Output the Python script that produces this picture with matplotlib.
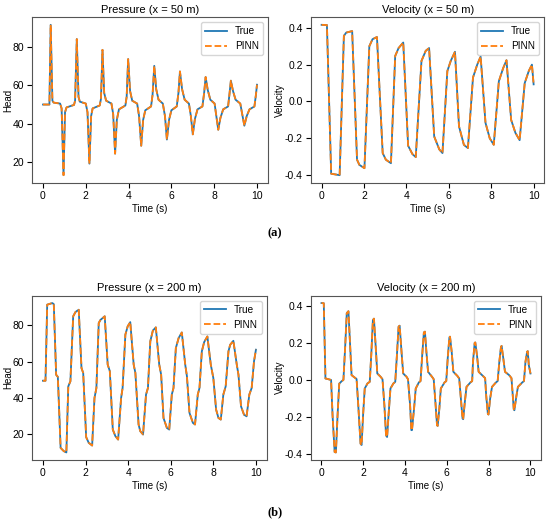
import matplotlib
matplotlib.use("Agg")
import matplotlib.pyplot as plt

plt.rcParams['font.family'] = ['Liberation Sans', 'DejaVu Sans']
plt.rcParams['axes.unicode_minus'] = False

# ---- Pressure at x = 50 m ----
p50_t = [0.00, 0.30, 0.36, 0.44, 0.50, 0.80, 0.87, 0.96, 1.03, 1.10, 1.45, 1.50, 1.58, 1.66, 1.72,
         2.00, 2.08, 2.17, 2.25, 2.32, 2.65, 2.71, 2.78, 2.86, 2.95, 3.20, 3.28, 3.37, 3.45, 3.55,
         3.85, 3.91, 3.98, 4.07, 4.17, 4.40, 4.49, 4.59, 4.68, 4.78, 5.05, 5.12, 5.20, 5.29, 5.40,
         5.60, 5.70, 5.79, 5.89, 6.00, 6.25, 6.33, 6.40, 6.50, 6.62, 6.82, 6.91, 7.00, 7.10, 7.22,
         7.45, 7.53, 7.60, 7.70, 7.82, 8.02, 8.10, 8.19, 8.29, 8.42, 8.65, 8.72, 8.78, 8.88, 9.00,
         9.22, 9.31, 9.41, 9.52, 9.65, 9.88, 9.95, 10.00]
p50_true = [50.0, 50.0, 91.4, 52.0, 51.0, 50.5, 48.0, 13.3, 46.0, 48.5, 49.8, 52.0, 84.0, 54.0, 51.5,
            50.5, 46.0, 19.3, 44.0, 48.0, 49.5, 53.0, 78.4, 56.0, 52.0, 50.5, 45.0, 24.5, 42.0, 47.5,
            49.5, 54.0, 73.6, 57.0, 52.0, 50.5, 44.0, 28.6, 42.0, 47.0, 49.0, 55.0, 70.1, 58.0, 52.5,
            50.5, 44.0, 31.8, 42.0, 47.0, 49.0, 56.0, 67.2, 58.0, 52.5, 50.5, 44.0, 34.5, 42.5, 47.5,
            49.0, 56.0, 64.3, 57.5, 52.5, 50.5, 44.0, 36.9, 43.0, 47.5, 49.0, 56.0, 62.4, 57.0, 52.5,
            50.5, 45.0, 39.0, 44.0, 47.5, 49.0, 55.0, 60.3]
p50_pinn = list(p50_true)

# ---- Velocity at x = 50 m ----
v50_t = [0.00, 0.25, 0.45, 0.85, 1.05, 1.16, 1.44, 1.67, 1.78, 2.02, 2.25, 2.40, 2.61, 2.88, 3.03,
         3.27, 3.47, 3.63, 3.85, 4.08, 4.28, 4.44, 4.71, 4.91, 5.07, 5.31, 5.55, 5.70, 5.93, 6.09,
         6.29, 6.48, 6.71, 6.90, 7.14, 7.34, 7.50, 7.73, 7.93, 8.12, 8.36, 8.56, 8.72, 8.94, 9.14,
         9.34, 9.58, 9.77, 9.92, 10.00]
v50_true = [0.416, 0.415, -0.392, -0.400, 0.356, 0.374, 0.382, -0.316, -0.344, -0.362, 0.300, 0.338,
            0.350, -0.280, -0.316, -0.335, 0.247, 0.290, 0.320, -0.240, -0.285, -0.302, 0.220, 0.275,
            0.290, -0.190, -0.260, -0.280, 0.165, 0.220, 0.270, -0.135, -0.235, -0.253, 0.130, 0.200,
            0.244, -0.116, -0.200, -0.235, 0.110, 0.180, 0.224, -0.100, -0.170, -0.210, 0.100, 0.165,
            0.200, 0.093]
v50_pinn = list(v50_true)

# ---- Pressure at x = 200 m ----
p200_t = [0.00, 0.12, 0.20, 0.44, 0.51, 0.62, 0.70, 0.83, 0.98, 1.10, 1.19, 1.29, 1.42, 1.53, 1.68,
          1.81, 1.89, 2.03, 2.15, 2.31, 2.42, 2.51, 2.62, 2.70, 2.90, 3.04, 3.14, 3.28, 3.40, 3.53,
          3.67, 3.74, 3.87, 3.98, 4.10, 4.26, 4.34, 4.49, 4.57, 4.70, 4.84, 4.93, 5.04, 5.16, 5.30,
          5.46, 5.55, 5.66, 5.82, 5.93, 6.05, 6.13, 6.24, 6.37, 6.52, 6.68, 6.76, 6.88, 7.04, 7.14,
          7.27, 7.35, 7.46, 7.57, 7.72, 7.88, 8.00, 8.13, 8.24, 8.35, 8.47, 8.58, 8.71, 8.79, 8.94,
          9.10, 9.18, 9.30, 9.44, 9.56, 9.69, 9.80, 9.91, 10.00]
p200_true = [49.5, 49.5, 91.4, 92.3, 91.7, 52.8, 51.6, 12.5, 10.7, 10.0, 46.4, 49.2, 85.0, 87.4, 88.6,
             56.5, 53.8, 18.4, 15.3, 13.8, 40.0, 45.5, 81.3, 83.0, 85.0, 58.4, 54.8, 22.6, 19.0, 17.1,
             40.0, 45.5, 74.9, 79.5, 81.8, 58.4, 53.8, 25.4, 21.7, 19.9, 41.9, 45.5, 71.2, 77.1, 78.9,
             58.4, 52.8, 29.0, 23.5, 22.6, 41.9, 45.5, 67.5, 73.0, 76.1, 58.4, 52.0, 31.8, 26.3, 25.4,
             41.9, 45.5, 65.7, 70.8, 73.9, 58.4, 51.0, 33.6, 29.0, 28.1, 41.9, 46.4, 65.7, 69.3, 71.5,
             58.4, 52.8, 35.4, 30.8, 29.9, 41.9, 45.5, 60.2, 66.6]
p200_pinn = list(p200_true)

# ---- Velocity at x = 200 m ----
v200_t = [0.00, 0.11, 0.19, 0.30, 0.46, 0.53, 0.63, 0.69, 0.77, 0.85, 0.97, 1.05, 1.13, 1.21, 1.29,
          1.37, 1.44, 1.60, 1.68, 1.76, 1.87, 1.92, 1.99, 2.07, 2.20, 2.31, 2.39, 2.46, 2.51, 2.59,
          2.67, 2.83, 2.92, 3.01, 3.09, 3.14, 3.22, 3.30, 3.44, 3.53, 3.61, 3.69, 3.74, 3.83, 3.91,
          4.07, 4.14, 4.24, 4.30, 4.33, 4.43, 4.51, 4.66, 4.74, 4.82, 4.90, 4.95, 5.02, 5.10, 5.29,
          5.37, 5.45, 5.53, 5.56, 5.64, 5.71, 5.89, 5.97, 6.04, 6.12, 6.15, 6.23, 6.31, 6.50, 6.59,
          6.67, 6.75, 6.78, 6.86, 6.94, 7.13, 7.21, 7.25, 7.33, 7.36, 7.44, 7.52, 7.72, 7.83, 7.88,
          7.96, 7.99, 8.07, 8.16, 8.35, 8.43, 8.51, 8.59, 8.62, 8.70, 8.78, 8.98, 9.09, 9.14, 9.20,
          9.23, 9.32, 9.40, 9.61, 9.69, 9.76, 9.84, 9.87, 9.92, 10.00]
v200_true = [0.414, 0.413, 0.008, 0.005, 0.000, -0.190, -0.388, -0.390, -0.190, -0.020, -0.006, 0.000,
             0.170, 0.360, 0.370, 0.188, 0.026, 0.012, 0.005, -0.136, -0.343, -0.350, -0.190, -0.046,
             -0.019, -0.010, 0.152, 0.322, 0.330, 0.188, 0.035, 0.017, 0.004, -0.136, -0.298, -0.307,
             -0.172, -0.046, -0.019, -0.010, 0.134, 0.287, 0.292, 0.152, 0.035, 0.017, 0.004, -0.136,
             -0.270, -0.270, -0.154, -0.046, -0.013, -0.006, 0.134, 0.256, 0.260, 0.152, 0.044, 0.017,
             0.004, -0.118, -0.244, -0.247, -0.154, -0.046, -0.013, -0.006, 0.116, 0.229, 0.233, 0.152,
             0.044, 0.022, 0.008, -0.100, -0.208, -0.211, -0.118, -0.037, -0.013, -0.006, 0.098, 0.200,
             0.202, 0.134, 0.044, 0.022, 0.010, -0.082, -0.181, -0.186, -0.100, -0.037, -0.013, -0.006,
             0.098, 0.179, 0.183, 0.116, 0.044, 0.026, 0.010, -0.064, -0.157, -0.163, -0.091, -0.037,
             -0.013, -0.006, 0.098, 0.152, 0.155, 0.080, 0.035]
v200_pinn = list(v200_true)

x_ticks = [0, 2, 4, 6, 8, 10]
head_ticks = [20, 40, 60, 80]
vel_ticks = [-0.4, -0.2, 0.0, 0.2, 0.4]
vel_tick_labels = ['-0.4', '-0.2', '0.0', '0.2', '0.4']

panels = [
    ([0.0587, 0.652, 0.428, 0.315], p50_t, p50_true, p50_pinn, "Pressure (x = 50 m)", "Head"),
    ([0.5655, 0.652, 0.424, 0.315], v50_t, v50_true, v50_pinn, "Velocity (x = 50 m)", "Velocity"),
    ([0.0587, 0.124, 0.426, 0.313], p200_t, p200_true, p200_pinn, "Pressure (x = 200 m)", "Head"),
    ([0.5655, 0.124, 0.418, 0.313], v200_t, v200_true, v200_pinn, "Velocity (x = 200 m)", "Velocity"),
]

fig = plt.figure(figsize=(5.5, 5.25), dpi=100)
for rect, t, yt, yp, title, ylab in panels:
    ax = fig.add_axes(rect)
    ax.plot(t, yt, color='#1f77b4', lw=1.3, label='True')
    ax.plot(t, yp, color='#ff7f0e', lw=1.3, ls='--', label='PINN')
    ax.set_title(title, fontsize=8, pad=3)
    ax.set_xlabel('Time (s)', fontsize=7, labelpad=2)
    ax.set_ylabel(ylab, fontsize=7)
    ax.set_xticks(x_ticks)
    if ylab == 'Head':
        ax.set_yticks(head_ticks)
        ax.yaxis.set_label_coords(-0.082, 0.5)
    else:
        ax.set_yticks(vel_ticks)
        ax.set_yticklabels(vel_tick_labels)
        ax.yaxis.set_label_coords(-0.112, 0.5)
    ax.tick_params(labelsize=7.5, length=3.5, pad=2.5)
    for s in ax.spines.values():
        s.set_color('#555555')
        s.set_linewidth(0.8)
    ax.legend(loc='upper right', fontsize=7.2, handlelength=2.2, borderpad=0.4)

fig.text(0.5, 0.556, '(a)', ha='center', va='center', fontsize=9, fontweight='bold',
         family=['Liberation Serif', 'DejaVu Serif'])
fig.text(0.5, 0.025, '(b)', ha='center', va='center', fontsize=9, fontweight='bold',
         family=['Liberation Serif', 'DejaVu Serif'])

fig.savefig('out.png', dpi=100)
